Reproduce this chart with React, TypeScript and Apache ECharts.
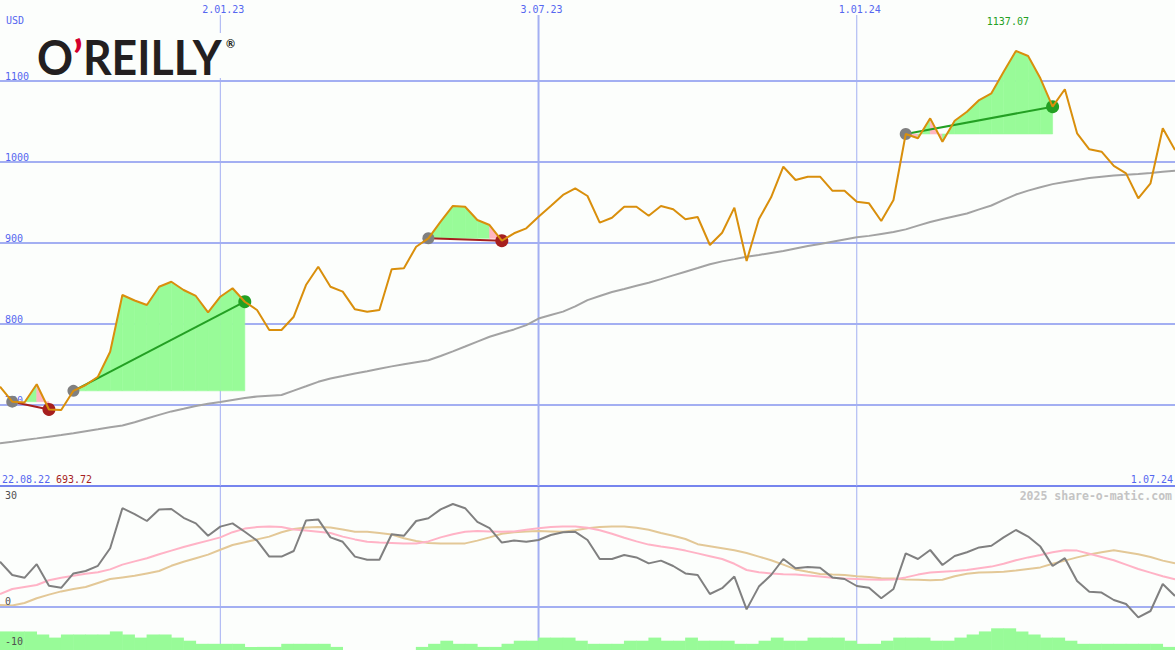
import React, { useEffect, useRef } from "react";
import * as echarts from "echarts";

// ---------- data ----------
const axisDates = ["22.08.22", "2.01.23", "3.07.23", "1.01.24", "1.07.24"];
const axisDateIndex = [0, 18, 44, 70, 96];

const priceClose: number[] = [
  722.6, 704.1, 703.1, 725.6, 694.5, 693.72, 717.5, 724.7, 734.9, 765.8,
  835.8, 829.0, 823.5, 846.0, 852.2, 842.0, 834.6, 814.4, 833.7, 844.1,
  827.5, 817.3, 792.6, 792.6, 809.0, 848.1, 870.7, 846.0, 839.9, 818.1,
  815.2, 817.3, 867.5, 868.8, 895.4, 905.8, 926.3, 945.7, 944.8, 928.4,
  922.2, 902.8, 912.0, 918.1, 932.5, 945.7, 959.3, 967.5, 958.0, 925.1,
  931.2, 944.8, 944.8, 933.7, 945.7, 941.6, 929.3, 932.1, 897.5, 912.7,
  943.6, 877.8, 929.3, 956.4, 994.2, 977.8, 981.9, 981.9, 964.6, 964.6,
  951.0, 949.0, 927.2, 953.1, 1034.6, 1029.3, 1053.9, 1025.1, 1051.0, 1062.1,
  1076.5, 1084.8, 1111.5, 1137.07, 1130.9, 1103.3, 1068.3, 1089.8, 1035.4, 1015.7,
  1012.7, 995.1, 986.0, 955.2, 973.7, 1041.6, 1014.8,
];

const longAverage: number[] = [
  652.7, 654.7, 656.8, 658.8, 660.9, 663.0, 665.2, 667.7, 670.0, 672.5,
  674.8, 678.8, 683.3, 687.8, 692.1, 695.4, 698.8, 701.5, 703.8, 706.2,
  708.6, 710.5, 711.5, 712.3, 717.8, 723.1, 728.6, 732.7, 735.7, 738.8,
  741.7, 744.7, 747.7, 750.2, 752.7, 755.2, 760.5, 766.2, 772.2, 778.3,
  784.2, 788.8, 793.3, 798.6, 806.7, 811.1, 815.3, 821.7, 829.5, 834.6,
  839.5, 843.3, 847.2, 851.0, 855.4, 860.0, 864.6, 869.1, 873.7, 877.3,
  880.1, 883.1, 885.3, 887.7, 890.1, 893.2, 896.2, 898.9, 901.6, 904.3,
  907.0, 908.8, 911.2, 913.6, 916.8, 921.4, 925.9, 929.6, 933.0, 936.4,
  941.5, 946.3, 953.2, 959.8, 964.7, 968.9, 972.7, 975.3, 977.8, 980.2,
  981.7, 983.2, 984.4, 985.3, 986.4, 987.9, 989.3,
];

const oscMain: number[] = [
  11.3, 8.0, 7.3, 10.7, 5.3, 4.8, 8.4, 9.0, 10.3, 14.7,
  24.7, 23.2, 21.5, 24.4, 24.5, 22.3, 20.9, 17.8, 20.1, 20.9,
  18.8, 16.6, 12.6, 12.6, 14.0, 21.6, 21.9, 17.4, 16.3, 12.6,
  11.8, 11.8, 18.2, 17.8, 21.5, 22.2, 24.4, 25.75, 24.7, 21.3,
  19.7, 16.1, 16.6, 16.3, 16.75, 18.0, 18.7, 18.8, 16.75, 12.0,
  12.0, 13.0, 12.4, 10.9, 11.6, 10.25, 8.4, 8.0, 3.25, 4.7,
  7.6, -0.6, 5.1, 8.0, 12.0, 9.7, 10.0, 9.8, 7.4, 7.0,
  5.25, 4.8, 2.2, 4.5, 13.4, 12.0, 14.25, 10.5, 12.75, 13.7,
  14.9, 15.3, 17.4, 19.25, 17.6, 15.1, 10.25, 12.2, 6.5, 3.8,
  3.6, 1.75, 0.75, -2.6, -1.0, 5.75, 2.75,
];

const oscFast: number[] = [
  3.2, 4.5, 5.0, 5.5, 6.7, 7.3, 7.8, 8.3, 8.7, 9.4,
  10.6, 11.4, 12.2, 13.2, 14.1, 15.0, 15.8, 16.6, 17.4, 18.7,
  19.6, 20.0, 20.1, 20.0, 19.4, 19.1, 18.8, 18.5, 17.6, 16.9,
  16.3, 16.1, 16.0, 15.9, 15.9, 16.4, 17.4, 18.2, 18.8, 19.0,
  18.9, 18.8, 18.9, 19.3, 19.7, 20.0, 20.1, 20.1, 19.8, 19.2,
  18.3, 17.3, 16.4, 15.6, 15.1, 14.7, 14.1, 13.4, 12.7, 12.0,
  10.8, 9.25, 8.7, 8.4, 8.2, 8.1, 7.9, 7.6, 7.3, 7.1,
  7.0, 6.9, 6.8, 6.9, 7.4, 8.1, 8.6, 8.8, 9.0, 9.25,
  9.7, 10.1, 10.8, 11.7, 12.4, 13.0, 13.7, 14.2, 14.1, 13.3,
  12.5, 11.7, 10.6, 9.5, 8.6, 7.7, 6.9,
];

const oscSlow: number[] = [
  0.5, 0.35, 1.0, 2.2, 3.1, 3.9, 4.5, 5.0, 6.0, 7.0,
  7.4, 7.8, 8.4, 9.0, 10.3, 11.3, 12.2, 13.1, 14.3, 15.5,
  16.2, 16.9, 17.6, 18.7, 19.5, 19.9, 20.0, 19.9, 19.4, 18.8,
  18.8, 18.5, 18.1, 17.2, 16.5, 16.0, 15.9, 15.9, 15.9, 16.6,
  17.4, 18.3, 18.7, 18.9, 19.0, 18.9, 18.8, 19.2, 19.7, 20.0,
  20.1, 20.1, 19.8, 19.3, 18.5, 17.8, 17.0, 15.7, 15.2, 14.7,
  14.2, 13.5, 12.6, 11.7, 10.6, 9.4, 8.8, 8.25, 8.1, 8.0,
  7.7, 7.5, 7.2, 7.1, 6.9, 6.8, 6.7, 6.8, 7.7, 8.3,
  8.6, 8.7, 8.8, 9.1, 9.5, 9.9, 10.8, 11.6, 12.4, 13.1,
  13.7, 14.2, 13.7, 13.2, 12.5, 11.6, 10.9,
];

const volumeLevel: number[] = [
  6, 6, 6, 5, 4, 5, 5, 5, 5, 6,
  5, 4, 5, 5, 4, 3, 2, 2, 2, 2,
  1, 1, 1, 2, 2, 2, 2, 1, 0, 0,
  0, 0, 0, 0, 1, 2, 3, 2, 2, 1,
  1, 2, 3, 3, 4, 4, 4, 3, 2, 2,
  2, 3, 3, 4, 3, 3, 4, 3, 3, 3,
  2, 2, 3, 4, 3, 3, 4, 4, 4, 3,
  2, 2, 3, 4, 4, 4, 3, 3, 4, 5,
  6, 7, 7, 6, 5, 4, 4, 3, 2, 2,
  2, 2, 2, 2, 2, 1,
];

// [entry index, exit index]
const trades: number[][] = [
  [1, 4],
  [6, 20],
  [35, 41],
  [74, 86],
];

const priceTickLabelsHidden = [600, 1200];
const oscTicks = [30, 0, -10];
const currencyLabel = "USD";
const watermark = "2025 share-o-matic.com";

// ---------- styles ----------
const BG = "#fcfefc";
const BLUE_TEXT = "#5567f0";
const GRID_BLUE = "#a3aff2";
const AXIS_BLUE = "#7685ee";
const ORANGE = "#d98f0c";
const MA_GRAY = "#a3a3a3";
const OSC_GRAY = "#808080";
const OSC_PINK = "#ffb3c6";
const OSC_TAN = "#e3c897";
const FILL_GREEN = "#98fb98";
const FILL_PINK = "#ffb6c1";
const WIN = "#23a023";
const LOSS = "#a61f1f";
const ENTRY = "#808080";
const MONO = '"DejaVu Sans Mono", monospace';

export default function App() {
  const ref = useRef<HTMLDivElement>(null);

  useEffect(() => {
    if (!ref.current) return;
    const chart = echarts.init(ref.current, undefined, { renderer: "svg" });
    const N = priceClose.length;
    const xs = priceClose.map((_, i) => i);
    const maxVal = Math.max(...priceClose);
    const maxIdx = priceClose.indexOf(maxVal);
    const minVal = Math.min(...priceClose);

    const midDates = axisDates.slice(1, -1).map((d, k) => [axisDateIndex[k + 1], k]);
    const splitColors = [600, 700, 800, 900, 1000, 1100, 1200].map((v) =>
      priceTickLabelsHidden.includes(v) ? "rgba(0,0,0,0)" : GRID_BLUE
    );

    const option: any = {
      animation: false,
      backgroundColor: BG,
      grid: [
        { left: 0, right: 0, top: 0, height: 486 },
        { left: 0, right: 0, top: 487, height: 163 },
      ],
      xAxis: [
        {
          type: "value", gridIndex: 0, min: 0, max: N - 1,
          axisLabel: { show: false }, axisTick: { show: false }, splitLine: { show: false },
          axisLine: { show: true, onZero: false, lineStyle: { color: AXIS_BLUE, width: 2 } },
        },
        { type: "value", gridIndex: 1, min: 0, max: N - 1, show: false, splitLine: { show: false } },
      ],
      yAxis: [
        {
          type: "value", gridIndex: 0, min: 600, max: 1200, interval: 100,
          axisLine: { show: false }, axisTick: { show: false },
          axisLabel: {
            inside: true, margin: 5, verticalAlign: "bottom", color: BLUE_TEXT,
            fontFamily: MONO, fontSize: 10, showMinLabel: false, showMaxLabel: false,
            formatter: (v: number) => String(v),
          },
          splitLine: { show: true, lineStyle: { color: splitColors, width: 2 } },
        },
        { type: "value", gridIndex: 1, min: -10.75, max: 30, show: false, splitLine: { show: false } },
        { type: "value", gridIndex: 1, min: 0, max: 52.6, show: false, splitLine: { show: false } },
      ],
      graphic: [
        { type: "rect", z: 50, shape: { x: 34, y: 33, width: 204, height: 45 }, style: { fill: BG } },
        {
          type: "text", z: 51, x: 37, y: 56, scaleX: 0.93,
          style: {
            text: "{a|O}{b|\u2019}{a|REILLY}",
            verticalAlign: "middle", textVerticalAlign: "middle",
            rich: {
              a: { fill: "#231f20", color: "#231f20", fontSize: 48, fontFamily: "Lato", fontWeight: "bold" },
              b: { fill: "#d3002d", color: "#d3002d", fontSize: 48, fontFamily: "Lato", fontWeight: "bold" },
            },
          },
        },
        {
          type: "text", z: 51, x: 226, y: 43,
          style: { text: "\u00ae", fill: "#231f20", font: "bold 11px Lato", verticalAlign: "middle", textVerticalAlign: "middle" },
        },
        {
          type: "text", z: 51, x: 6, y: 20,
          style: { text: currencyLabel, fill: BLUE_TEXT, font: `10px ${MONO}`, verticalAlign: "middle", textVerticalAlign: "middle" },
        },
        {
          type: "text", z: 51, x: 2, y: 479,
          style: { text: axisDates[0], fill: BLUE_TEXT, font: `10px ${MONO}`, verticalAlign: "middle", textVerticalAlign: "middle" },
        },
        {
          type: "text", z: 51, x: 56, y: 479,
          style: { text: minVal.toFixed(2), fill: LOSS, font: `10px ${MONO}`, verticalAlign: "middle", textVerticalAlign: "middle" },
        },
        {
          type: "text", z: 51, x: 1173, y: 479,
          style: {
            text: axisDates[axisDates.length - 1], fill: BLUE_TEXT, font: `10px ${MONO}`,
            align: "right", textAlign: "right", verticalAlign: "middle", textVerticalAlign: "middle",
          },
        },
        {
          type: "text", z: 51, x: 1172, y: 496,
          style: {
            text: watermark, fill: "#c4c4c4", font: `bold 11.5px ${MONO}`,
            align: "right", textAlign: "right", verticalAlign: "middle", textVerticalAlign: "middle",
          },
        },
      ],
      series: [
        // vertical date lines + labels, top panel
        {
          type: "custom", xAxisIndex: 0, yAxisIndex: 0, z: 1, silent: true,
          data: midDates,
          renderItem: (params: any, api: any) => {
            const k = api.value(1);
            const x = api.coord([api.value(0), 1000])[0];
            const cs = params.coordSys;
            return {
              type: "group",
              children: [
                {
                  type: "line",
                  shape: { x1: x, y1: cs.y + 15, x2: x, y2: cs.y + cs.height },
                  style: { stroke: GRID_BLUE, lineWidth: k === 1 ? 2 : 1 },
                },
                {
                  type: "text", x: x + 3, y: cs.y + 9,
                  style: {
                    text: axisDates[k + 1], fill: BLUE_TEXT, font: `10px ${MONO}`,
                    align: "center", textAlign: "center", verticalAlign: "middle", textVerticalAlign: "middle",
                  },
                },
              ],
            };
          },
        },
        // vertical date lines, bottom panel
        {
          type: "custom", xAxisIndex: 1, yAxisIndex: 1, z: 1, silent: true,
          data: midDates,
          renderItem: (params: any, api: any) => {
            const k = api.value(1);
            const x = api.coord([api.value(0), 0])[0];
            const cs = params.coordSys;
            return {
              type: "line",
              shape: { x1: x, y1: cs.y, x2: x, y2: cs.y + cs.height },
              style: { stroke: GRID_BLUE, lineWidth: k === 1 ? 2 : 1 },
            };
          },
        },
        // trade area fills
        {
          type: "custom", xAxisIndex: 0, yAxisIndex: 0, z: 2, silent: true,
          data: trades.map((t) => [t[0], t[1]]),
          renderItem: (params: any, api: any) => {
            const e = api.value(0);
            const ex = api.value(1);
            const ep = priceClose[e];
            const children: any[] = [];
            for (let k = e; k < ex; k++) {
              const p0 = api.coord([k, priceClose[k]]);
              const p1 = api.coord([k + 1, priceClose[k + 1]]);
              const b0 = api.coord([k, ep]);
              const b1 = api.coord([k + 1, ep]);
              const c = priceClose[k + 1] >= ep ? FILL_GREEN : FILL_PINK;
              children.push({
                type: "polygon",
                shape: { points: [p0, p1, b1, b0] },
                style: { fill: c, stroke: c, lineWidth: 0.6 },
              });
            }
            return { type: "group", children };
          },
        },
        // long moving average
        {
          type: "line", xAxisIndex: 0, yAxisIndex: 0, z: 3, silent: true,
          data: xs.map((i) => [i, longAverage[i]]),
          showSymbol: false, lineStyle: { color: MA_GRAY, width: 2 },
        },
        // trade lines & markers
        {
          type: "custom", xAxisIndex: 0, yAxisIndex: 0, z: 4, silent: true,
          data: trades.map((t) => [t[0], t[1]]),
          renderItem: (params: any, api: any) => {
            const e = api.value(0);
            const ex = api.value(1);
            const a = api.coord([e, priceClose[e]]);
            const b = api.coord([ex, priceClose[ex]]);
            const win = priceClose[ex] > priceClose[e];
            return {
              type: "group",
              children: [
                { type: "line", shape: { x1: a[0], y1: a[1], x2: b[0], y2: b[1] }, style: { stroke: win ? WIN : LOSS, lineWidth: 2 } },
                { type: "circle", shape: { cx: a[0], cy: a[1], r: 6 }, style: { fill: ENTRY } },
                { type: "circle", shape: { cx: b[0], cy: b[1], r: 6.5 }, style: { fill: win ? WIN : LOSS } },
              ],
            };
          },
        },
        // price
        {
          type: "line", xAxisIndex: 0, yAxisIndex: 0, z: 5, silent: true,
          data: xs.map((i) => [i, priceClose[i]]),
          showSymbol: false, lineStyle: { color: ORANGE, width: 2 },
        },
        // max label
        {
          type: "custom", xAxisIndex: 0, yAxisIndex: 0, z: 6, silent: true,
          data: [[maxIdx, maxVal]],
          renderItem: (params: any, api: any) => {
            const x = api.coord([api.value(0), api.value(1)])[0];
            const cs = params.coordSys;
            return {
              type: "text", x: x - 8, y: cs.y + 21,
              style: {
                text: maxVal.toFixed(2), fill: WIN, font: `10px ${MONO}`,
                align: "center", textAlign: "center", verticalAlign: "middle", textVerticalAlign: "middle",
              },
            };
          },
        },
        // volume-like bars
        {
          type: "bar", xAxisIndex: 1, yAxisIndex: 2, z: 2, silent: true,
          data: volumeLevel.map((v, i) => [i + 0.5, v]),
          barWidth: 12.8, itemStyle: { color: FILL_GREEN },
        },
        // oscillator lines
        {
          type: "line", xAxisIndex: 1, yAxisIndex: 1, z: 3, silent: true,
          data: xs.map((i) => [i, oscSlow[i]]),
          showSymbol: false, lineStyle: { color: OSC_TAN, width: 2 },
          markLine: {
            silent: true, symbol: "none", label: { show: false },
            lineStyle: { color: GRID_BLUE, width: 2, type: "solid" },
            data: [{ yAxis: 0 }],
          },
        },
        {
          type: "line", xAxisIndex: 1, yAxisIndex: 1, z: 4, silent: true,
          data: xs.map((i) => [i, oscFast[i]]),
          showSymbol: false, lineStyle: { color: OSC_PINK, width: 2 },
        },
        {
          type: "line", xAxisIndex: 1, yAxisIndex: 1, z: 5, silent: true,
          data: xs.map((i) => [i, oscMain[i]]),
          showSymbol: false, lineStyle: { color: OSC_GRAY, width: 2 },
        },
        // oscillator tick labels
        {
          type: "custom", xAxisIndex: 1, yAxisIndex: 1, z: 6, silent: true,
          data: oscTicks.map((v) => [0, v]),
          renderItem: (params: any, api: any) => {
            const v = api.value(1);
            const y = api.coord([0, v])[1];
            const cs = params.coordSys;
            const atTop = y <= cs.y + 1;
            return {
              type: "text", x: cs.x + 5, y: atTop ? y + 3 : y - 1,
              style: {
                text: String(v), fill: "#505050", font: `10px ${MONO}`,
                verticalAlign: atTop ? "top" : "bottom", textVerticalAlign: atTop ? "top" : "bottom",
              },
            };
          },
        },
      ],
    };

    chart.setOption(option);
    return () => chart.dispose();
  }, []);

  return (
    <div
      ref={ref}
      style={{ position: "fixed", left: 0, top: 0, width: 1175, height: 650 }}
    />
  );
}
